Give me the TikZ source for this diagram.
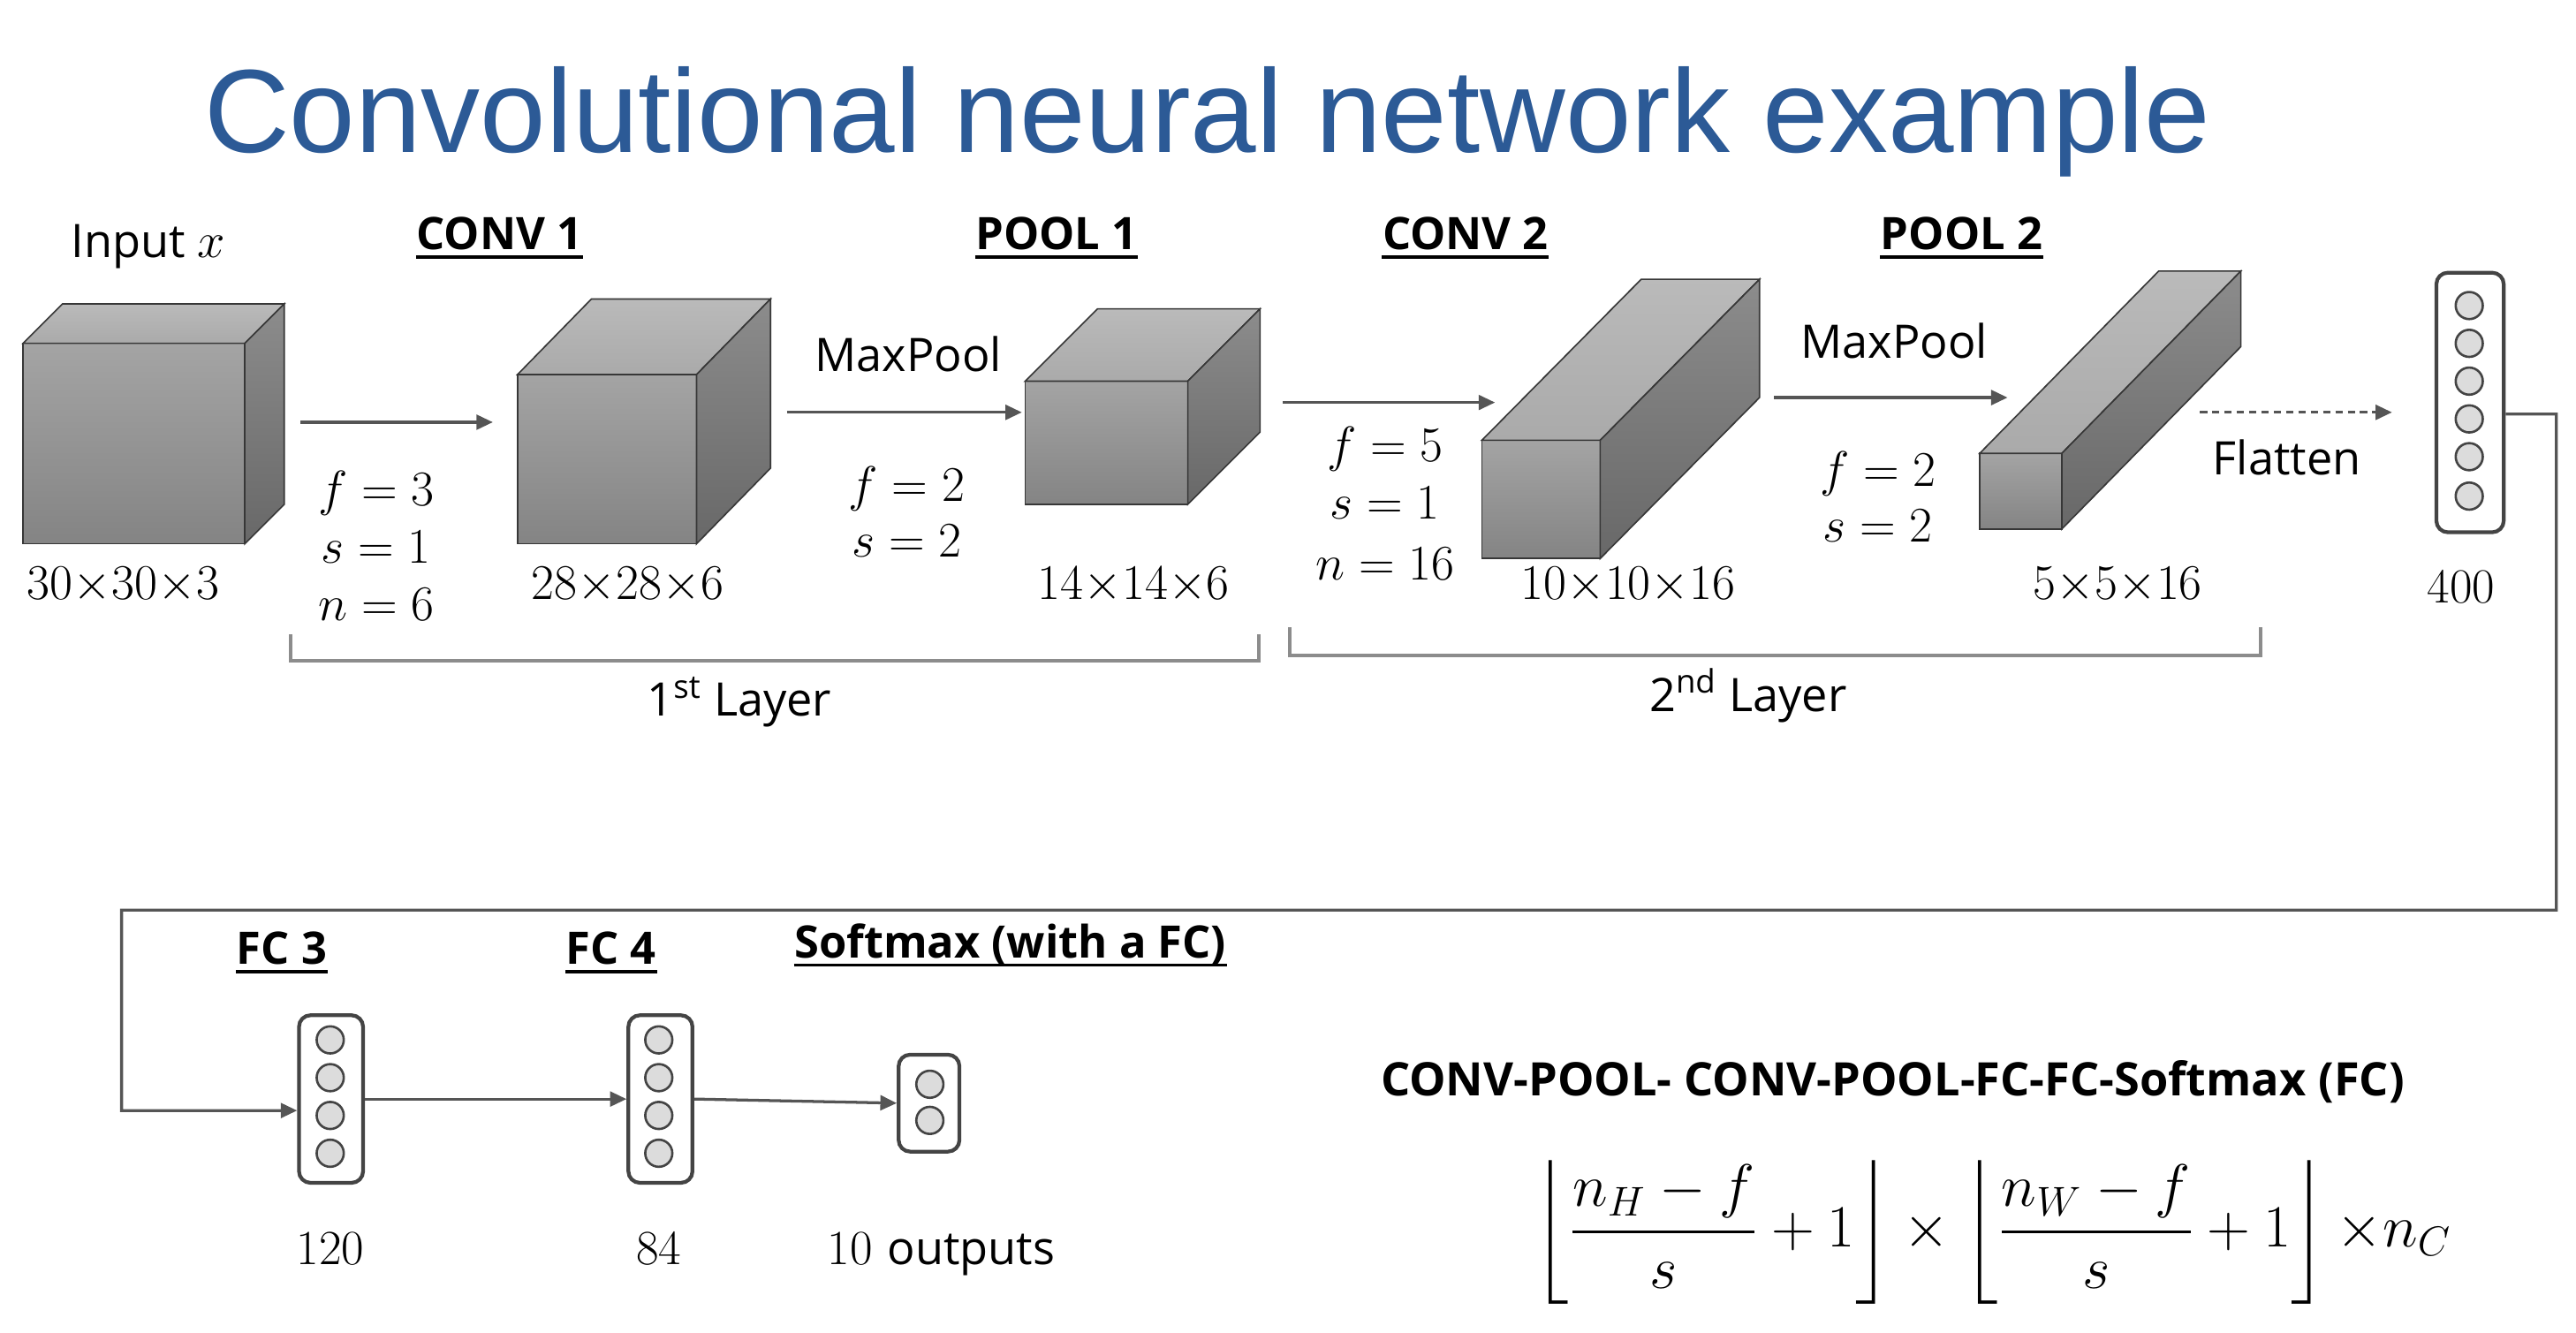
\documentclass[tikz,border=0pt]{standalone}
\usepackage{fontspec}
\usepackage{amsmath}
\usetikzlibrary{arrows.meta,positioning}
\newfontfamily\labelfont{Open Sans}
\newfontfamily\titlefont{Liberation Sans}

\definecolor{titleblue}{RGB}{44,90,150}
\definecolor{edgegray}{RGB}{55,55,55}
\definecolor{frontT}{RGB}{164,164,164}
\definecolor{frontB}{RGB}{132,132,132}
\definecolor{topT}{RGB}{186,186,186}
\definecolor{topB}{RGB}{170,170,170}
\definecolor{sideT}{RGB}{140,140,140}
\definecolor{sideB}{RGB}{104,104,104}
\definecolor{linegray}{RGB}{85,85,85}
\definecolor{bracegray}{RGB}{140,140,140}
\definecolor{boxgray}{RGB}{68,68,68}
\definecolor{neurongray}{RGB}{220,220,220}

\tikzset{
  titletext/.style={font=\titlefont\fontsize{41}{48}\selectfont, text=titleblue, inner sep=0pt},
  headtext/.style={font=\labelfont\bfseries\fontsize{15.5}{18}\selectfont, inner sep=0pt, anchor=base},
  lbltext/.style={font=\labelfont\fontsize{16}{19}\selectfont, inner sep=0pt, anchor=base},
  dimtext/.style={font=\fontsize{17}{20}\selectfont, inner sep=0pt, anchor=base},
  frontface/.style={draw=edgegray, line width=0.5pt, top color=frontT, bottom color=frontB, inner sep=0pt, outer sep=0pt},
  topface/.style={draw=edgegray, line width=0.5pt, top color=topT, bottom color=topB},
  sideface/.style={draw=edgegray, line width=0.5pt, top color=sideT, bottom color=sideB},
  flow/.style={draw=linegray, line width=1pt, -{Triangle[length=0.2cm,width=0.18cm]}},
  layerbrace/.style={draw=bracegray, line width=1.2pt},
  fcbox/.style={draw=boxgray, rounded corners=0.14cm, line width=1.3pt, inner sep=0pt},
  neuron/.style={circle, draw=boxgray, fill=neurongray, line width=0.8pt, minimum size=0.33cm, inner sep=0pt}
}

% name, x, y (front top left), width, height, depth x, depth y
\newcommand{\cnnblock}[7]{%
  \node (#1) at (#2,#3) [frontface, anchor=north west, minimum width=#4*0.02cm, minimum height=#5*0.02cm] {};
  \path[topface] (#1.north west) -- ++(#6,-#7) -- ++(#4,0) -- (#1.north east) -- cycle;
  \path[sideface] (#1.north east) -- ++(#6,-#7) -- ++(0,#5) -- (#1.south east) -- cycle;
}
\newcommand{\underlinenode}[1]{%
  \draw[line width=1pt] ([yshift=-0.09cm]#1.base west) -- ([yshift=-0.09cm]#1.base east);
}

\begin{document}
\begin{tikzpicture}[x=0.02cm, y=-0.02cm]

\useasboundingbox (0,0) rectangle (1568,811);

\node (ttl) at (124,93) [titletext, anchor=base west] {Convolutional neural network example};

% feature maps
\cnnblock{inp}{14}{209}{135}{122}{24}{24}
\cnnblock{conva}{315}{228}{109}{103}{45}{46}
\cnnblock{poola}{624}{232}{99}{75}{44}{44}
\cnnblock{convb}{902}{268}{72}{72}{97}{98}
\cnnblock{poolb}{1205}{276}{50}{46}{109}{111}

% headings
\node (inlbl) at (43,157) [lbltext, anchor=base west] {Input $x$};
\node (convat) at (304,152) [headtext] {CONV 1};
\node (poolat) at (643,152) [headtext] {POOL 1};
\node (convbt) at (892,152) [headtext] {CONV 2};
\node (poolbt) at (1194,152) [headtext] {POOL 2};
\underlinenode{convat}
\underlinenode{poolat}
\underlinenode{convbt}
\underlinenode{poolbt}

% sizes
\node (inpdim) at (75,365) [dimtext] {$30{\times}30{\times}3$};
\node (convadim) at (382,365) [dimtext] {$28{\times}28{\times}6$};
\node (pooladim) at (690,365) [dimtext] {$14{\times}14{\times}6$};
\node (convbdim) at (991,365) [dimtext] {$10{\times}10{\times}16$};
\node (poolbdim) at (1289,365) [dimtext] {$5{\times}5{\times}16$};

% hyperparameters
\node (convaf) at (229,308) [dimtext] {$f=3$};
\node (convas) at (229,343) [dimtext] {$s=1$};
\node (convan) at (229,378) [dimtext] {$n=6$};
\node (poolaf) at (552,305) [dimtext] {$f=2$};
\node (poolas) at (552,339) [dimtext] {$s=2$};
\node (convbf) at (843,281) [dimtext] {$f=5$};
\node (convbs) at (843,316) [dimtext] {$s=1$};
\node (convbn) at (843,353) [dimtext] {$n=16$};
\node (poolbf) at (1143,296) [dimtext] {$f=2$};
\node (poolbs) at (1143,330) [dimtext] {$s=2$};

\node (mpa) at (553,226) [lbltext] {MaxPool};
\node (mpb) at (1153,218) [lbltext] {MaxPool};
\node (flat) at (1392,289) [lbltext] {Flatten};

% arrows between maps
\coordinate (a1s) at (183,257);
\coordinate (a1e) at (300,257);
\coordinate (a2s) at (479,251);
\coordinate (a2e) at (622,251);
\coordinate (a3s) at (781,245);
\coordinate (a3e) at (910,245);
\coordinate (a4s) at (1080,242);
\coordinate (a4e) at (1222,242);
\coordinate (a5s) at (1339,251);
\coordinate (a5e) at (1456,251);
\draw[flow] (a1s) -- (a1e);
\draw[flow] (a2s) -- (a2e);
\draw[flow] (a3s) -- (a3e);
\draw[flow] (a4s) -- (a4e);
\draw[flow, dash pattern=on 0.09cm off 0.06cm] (a5s) -- (a5e);

% layer brackets
\draw[layerbrace] (177,386) -- (177,402) -- (766,402) -- (766,386);
\draw[layerbrace] (785,382) -- (785,399) -- (1376,399) -- (1376,382);
\node (layera) at (450,436) [lbltext] {1\textsuperscript{st} Layer};
\node (layerb) at (1064,433) [lbltext] {2\textsuperscript{nd} Layer};

% flattened vector
\node (v400) at (1503.5,245) [fcbox, minimum width=41*0.02cm, minimum height=158*0.02cm] {};
\node (v400c1) at (1503,186) [neuron] {};
\node (v400c2) at (1503,209) [neuron] {};
\node (v400c3) at (1503,232) [neuron] {};
\node (v400c4) at (1503,255) [neuron] {};
\node (v400c5) at (1503,278) [neuron] {};
\node (v400c6) at (1503,302) [neuron] {};
\node (v400dim) at (1498,367) [dimtext] {400};

% fully connected part
\node (fc3) at (201.5,669) [fcbox, minimum width=39*0.02cm, minimum height=102*0.02cm] {};
\node (fc3c1) at (201,633) [neuron] {};
\node (fc3c2) at (201,656) [neuron] {};
\node (fc3c3) at (201,679) [neuron] {};
\node (fc3c4) at (201,702) [neuron] {};
\node (fc4) at (402,669) [fcbox, minimum width=39*0.02cm, minimum height=102*0.02cm] {};
\node (fc4c1) at (401,633) [neuron] {};
\node (fc4c2) at (401,656) [neuron] {};
\node (fc4c3) at (401,679) [neuron] {};
\node (fc4c4) at (401,702) [neuron] {};
\node (smax) at (565.5,671.5) [fcbox, minimum width=37*0.02cm, minimum height=59*0.02cm] {};
\node (smaxc1) at (566,660) [neuron] {};
\node (smaxc2) at (566,682) [neuron] {};

\node (fc3t) at (171.5,587) [headtext] {FC 3};
\node (fc4t) at (372,587) [headtext] {FC 4};
\node (smaxt) at (615,583) [headtext] {Softmax (with a FC)};
\underlinenode{fc3t}
\underlinenode{fc4t}
\underlinenode{smaxt}

\node (fc3dim) at (201,770) [dimtext] {120};
\node (fc4dim) at (401,770) [dimtext] {84};
\node (smaxdim) at (573,770) [dimtext] {10 {\labelfont\fontsize{16}{19}\selectfont outputs}};

\coordinate (turnA) at (1556,252);
\coordinate (turnB) at (1556,554);
\coordinate (turnC) at (74,554);
\coordinate (turnD) at (74,676);
\draw[flow] ([yshift=-0.14cm]v400.east) -- (turnA) -- (turnB) -- (turnC) -- (turnD) -- ([yshift=-0.14cm]fc3.west);
\draw[flow] (fc3.east) -- (fc4.west);
\draw[flow] (fc4.east) -- (smax.west);

% summary
\node (seq) at (1152,667) [headtext, font=\labelfont\bfseries\fontsize{16}{19}\selectfont] {CONV-POOL- CONV-POOL-FC-FC-Softmax (FC)};
\node (eqn) at (1213,750) [font=\fontsize{21}{25}\selectfont] {$\displaystyle \left\lfloor \frac{n_H-f}{s}+1 \right\rfloor \times \left\lfloor \frac{n_W-f}{s}+1 \right\rfloor {\times} n_C$};

\end{tikzpicture}
\end{document}
